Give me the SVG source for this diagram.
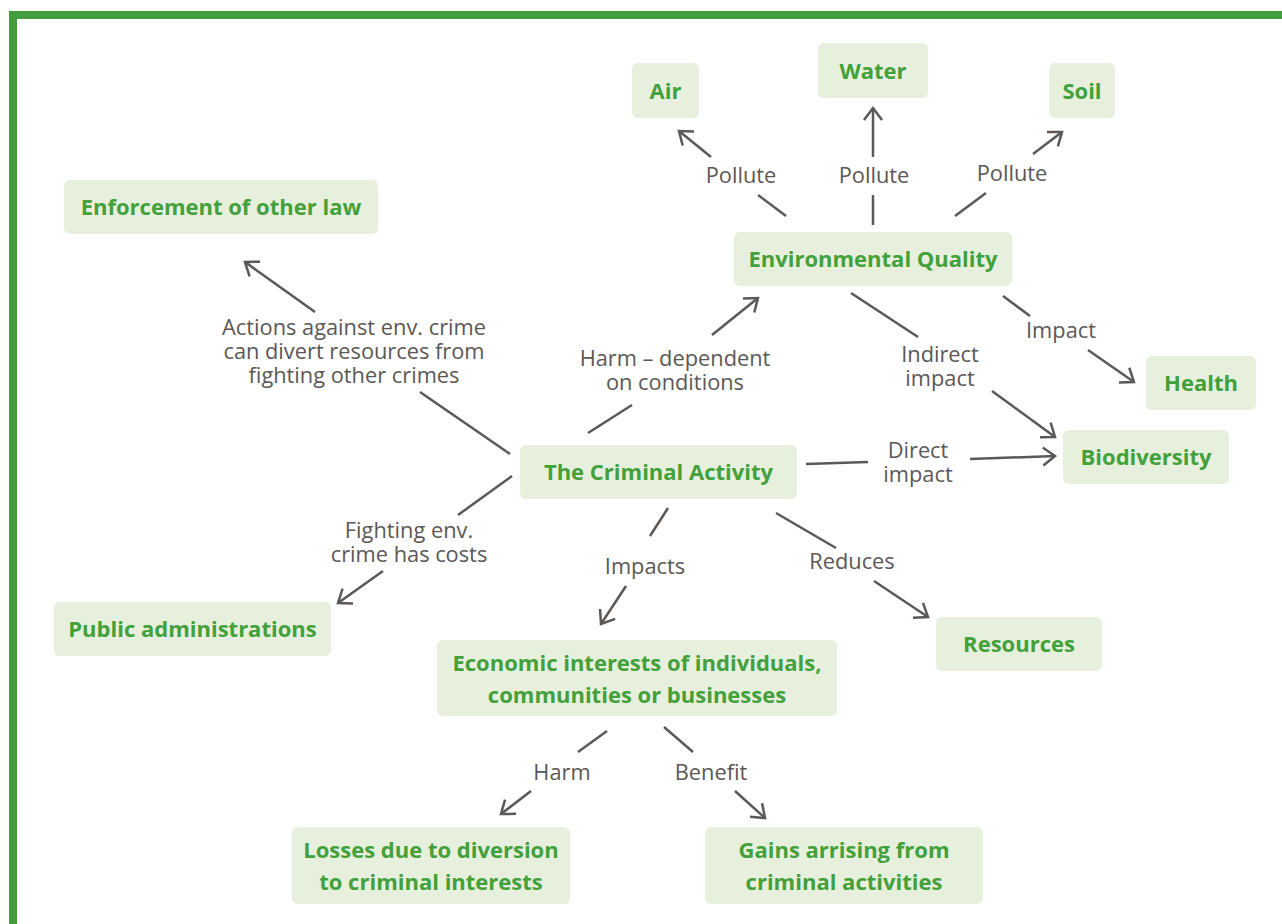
<svg xmlns="http://www.w3.org/2000/svg" width="1282" height="924" viewBox="0 0 1282 924">
<defs>
<style>
.box{fill:#e6f0dd;}
.nt{font-family:"Open Sans","Liberation Sans",sans-serif;font-weight:bold;font-size:22px;fill:#43a03b;text-anchor:middle;}
.lt{font-family:"Open Sans","Liberation Sans",sans-serif;font-size:21.8px;fill:#5c5856;text-anchor:middle;}
.ln{stroke:#5c5856;stroke-width:2.5;fill:none;}
</style>
<marker id="ah" markerUnits="userSpaceOnUse" markerWidth="30" markerHeight="30" refX="0" refY="0" orient="auto" overflow="visible">
<path d="M-12,-9 L0,0 L-12,9" fill="none" stroke="#5c5856" stroke-width="2.5"/>
</marker>
</defs>
<rect x="0" y="0" width="1282" height="924" fill="#ffffff"/>
<rect x="13" y="15" width="1300" height="940" fill="none" stroke="#439c3d" stroke-width="8"/>

<g id="connectors">
<line class="ln" x1="510" y1="454" x2="420" y2="392"/>
<line class="ln" x1="315" y1="312" x2="245" y2="262" marker-end="url(#ah)"/>
<line class="ln" x1="512" y1="476" x2="458" y2="515"/>
<line class="ln" x1="383" y1="571" x2="338" y2="603" marker-end="url(#ah)"/>
<line class="ln" x1="588" y1="433" x2="632" y2="405"/>
<line class="ln" x1="712" y1="335" x2="758" y2="298" marker-end="url(#ah)"/>
<line class="ln" x1="786" y1="216" x2="758" y2="195"/>
<line class="ln" x1="711" y1="157" x2="679" y2="131" marker-end="url(#ah)"/>
<line class="ln" x1="873" y1="225" x2="873" y2="195"/>
<line class="ln" x1="873" y1="157" x2="873" y2="108" marker-end="url(#ah)"/>
<line class="ln" x1="955" y1="216" x2="986" y2="193"/>
<line class="ln" x1="1033" y1="154" x2="1062" y2="132" marker-end="url(#ah)"/>
<line class="ln" x1="1003" y1="296" x2="1030" y2="316"/>
<line class="ln" x1="1088" y1="350" x2="1134" y2="382" marker-end="url(#ah)"/>
<line class="ln" x1="851" y1="293" x2="918" y2="337"/>
<line class="ln" x1="992" y1="391" x2="1055" y2="437" marker-end="url(#ah)"/>
<line class="ln" x1="806" y1="464" x2="868" y2="462"/>
<line class="ln" x1="970" y1="459" x2="1055" y2="456" marker-end="url(#ah)"/>
<line class="ln" x1="668" y1="508" x2="650" y2="536"/>
<line class="ln" x1="626" y1="586" x2="601" y2="624" marker-end="url(#ah)"/>
<line class="ln" x1="776" y1="513" x2="836" y2="548"/>
<line class="ln" x1="874" y1="581" x2="928" y2="617" marker-end="url(#ah)"/>
<line class="ln" x1="607" y1="731" x2="578" y2="752"/>
<line class="ln" x1="531" y1="791" x2="501" y2="814" marker-end="url(#ah)"/>
<line class="ln" x1="664" y1="727" x2="693" y2="752"/>
<line class="ln" x1="735" y1="791" x2="765" y2="818" marker-end="url(#ah)"/>

<text class="lt" x="354" y="335">Actions against env. crime</text>
<text class="lt" x="354" y="359">can divert resources from</text>
<text class="lt" x="354" y="383">fighting other crimes</text>
<text class="lt" x="409" y="538">Fighting env.</text>
<text class="lt" x="409" y="562">crime has costs</text>
<text class="lt" x="675" y="366">Harm – dependent</text>
<text class="lt" x="675" y="390">on conditions</text>
<text class="lt" x="741" y="183">Pollute</text>
<text class="lt" x="874" y="183">Pollute</text>
<text class="lt" x="1012" y="181">Pollute</text>
<text class="lt" x="1061" y="338">Impact</text>
<text class="lt" x="940" y="362">Indirect</text>
<text class="lt" x="940" y="386">impact</text>
<text class="lt" x="918" y="458">Direct</text>
<text class="lt" x="918" y="482">impact</text>
<text class="lt" x="645" y="574">Impacts</text>
<text class="lt" x="852" y="569">Reduces</text>
<text class="lt" x="562" y="780">Harm</text>
<text class="lt" x="711" y="780">Benefit</text>
</g>

<g id="enforcement"><rect class="box" x="64" y="180" width="314" height="54" rx="6"/><text class="nt" x="221" y="215">Enforcement of other law</text></g>
<g id="air"><rect class="box" x="632" y="63" width="67" height="55" rx="6"/><text class="nt" x="665.5" y="98.5">Air</text></g>
<g id="water"><rect class="box" x="818" y="43" width="110" height="55" rx="6"/><text class="nt" x="873" y="78.5">Water</text></g>
<g id="soil"><rect class="box" x="1049" y="63" width="66" height="55" rx="6"/><text class="nt" x="1082" y="98.5">Soil</text></g>
<g id="envquality"><rect class="box" x="734" y="232" width="278" height="54" rx="6"/><text class="nt" x="873" y="267">Environmental Quality</text></g>
<g id="health"><rect class="box" x="1146" y="356" width="110" height="54" rx="6"/><text class="nt" x="1201" y="391">Health</text></g>
<g id="biodiversity"><rect class="box" x="1063" y="430" width="166" height="54" rx="6"/><text class="nt" x="1146" y="465">Biodiversity</text></g>
<g id="criminal"><rect class="box" x="520" y="445" width="277" height="54" rx="6"/><text class="nt" x="658.5" y="480">The Criminal Activity</text></g>
<g id="publicadmin"><rect class="box" x="54" y="602" width="277" height="54" rx="6"/><text class="nt" x="192.5" y="637">Public administrations</text></g>
<g id="economic"><rect class="box" x="437" y="640" width="400" height="76" rx="6"/><text class="nt" x="637" y="670.5">Economic interests of individuals,</text><text class="nt" x="637" y="702.5">communities or businesses</text></g>
<g id="resources"><rect class="box" x="936" y="617" width="166" height="54" rx="6"/><text class="nt" x="1019" y="652">Resources</text></g>
<g id="losses"><rect class="box" x="292" y="827" width="278" height="77" rx="6"/><text class="nt" x="431" y="857.5">Losses due to diversion</text><text class="nt" x="431" y="889.5">to criminal interests</text></g>
<g id="gains"><rect class="box" x="705" y="827" width="278" height="77" rx="6"/><text class="nt" x="844" y="857.5">Gains arrising from</text><text class="nt" x="844" y="889.5">criminal activities</text></g>
</svg>
